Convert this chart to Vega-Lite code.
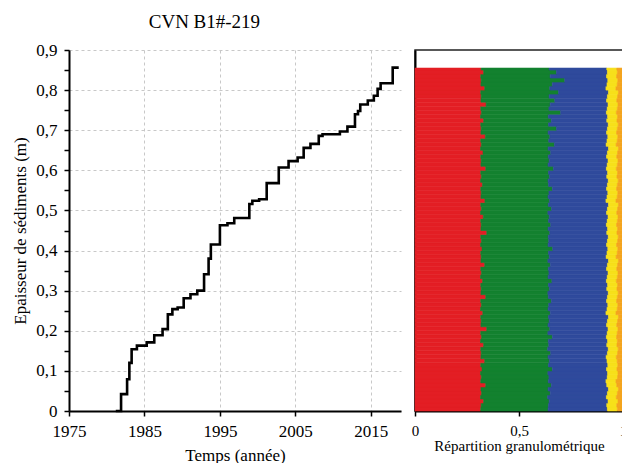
{
  "$schema": "https://vega.github.io/schema/vega-lite/v6.json",
  "background": "white",
  "padding": {"left": 11, "top": 13, "right": 0, "bottom": 0},
  "title": {"text": "CVN B1#-219", "anchor": "start", "dx": 137, "font": "Liberation Serif", "fontSize": 19, "fontWeight": "normal", "color": "black", "offset": 9},
  "spacing": 14,
  "bounds": "flush",
  "datasets": {
    "steps": [
      {"year": 1981.2, "h": 0}, {"year": 1981.9, "h": 0.042}, {"year": 1982.7, "h": 0.079}, {"year": 1983.0, "h": 0.12},
      {"year": 1983.3, "h": 0.154}, {"year": 1984.0, "h": 0.163}, {"year": 1985.3, "h": 0.171}, {"year": 1986.3, "h": 0.189},
      {"year": 1987.4, "h": 0.204}, {"year": 1988.1, "h": 0.241}, {"year": 1988.7, "h": 0.254}, {"year": 1989.4, "h": 0.258},
      {"year": 1990.2, "h": 0.281}, {"year": 1991.1, "h": 0.291}, {"year": 1992.0, "h": 0.30}, {"year": 1992.9, "h": 0.341},
      {"year": 1993.5, "h": 0.38}, {"year": 1993.8, "h": 0.415}, {"year": 1995.0, "h": 0.463}, {"year": 1996.0, "h": 0.468},
      {"year": 1996.9, "h": 0.481}, {"year": 1998.9, "h": 0.516}, {"year": 1999.3, "h": 0.524}, {"year": 2000.2, "h": 0.528},
      {"year": 2001.2, "h": 0.568}, {"year": 2002.8, "h": 0.607}, {"year": 2004.1, "h": 0.623}, {"year": 2005.3, "h": 0.632},
      {"year": 2006.1, "h": 0.656}, {"year": 2007.0, "h": 0.666}, {"year": 2008.1, "h": 0.686}, {"year": 2008.6, "h": 0.69},
      {"year": 2010.9, "h": 0.697}, {"year": 2011.9, "h": 0.709}, {"year": 2012.9, "h": 0.74}, {"year": 2013.3, "h": 0.748},
      {"year": 2013.6, "h": 0.764}, {"year": 2014.6, "h": 0.774}, {"year": 2015.4, "h": 0.786}, {"year": 2015.9, "h": 0.803},
      {"year": 2016.3, "h": 0.817}, {"year": 2017.9, "h": 0.856}, {"year": 2018.7, "h": 0.856}
    ],
    "grain": [
      {"d": 0.00, "d2": 0.01, "c1": 0.316, "c2": 0.324, "c3": 0.285, "c4": 0.048, "c5": 0.027},
      {"d": 0.01, "d2": 0.02, "c1": 0.318, "c2": 0.324, "c3": 0.280, "c4": 0.048, "c5": 0.030},
      {"d": 0.02, "d2": 0.03, "c1": 0.330, "c2": 0.315, "c3": 0.283, "c4": 0.048, "c5": 0.024},
      {"d": 0.03, "d2": 0.04, "c1": 0.315, "c2": 0.323, "c3": 0.282, "c4": 0.048, "c5": 0.032},
      {"d": 0.04, "d2": 0.05, "c1": 0.320, "c2": 0.330, "c3": 0.275, "c4": 0.048, "c5": 0.027},
      {"d": 0.05, "d2": 0.06, "c1": 0.317, "c2": 0.323, "c3": 0.290, "c4": 0.048, "c5": 0.022},
      {"d": 0.06, "d2": 0.07, "c1": 0.340, "c2": 0.315, "c3": 0.267, "c4": 0.048, "c5": 0.030},
      {"d": 0.07, "d2": 0.08, "c1": 0.316, "c2": 0.325, "c3": 0.277, "c4": 0.048, "c5": 0.034},
      {"d": 0.08, "d2": 0.09, "c1": 0.319, "c2": 0.325, "c3": 0.280, "c4": 0.050, "c5": 0.026},
      {"d": 0.09, "d2": 0.10, "c1": 0.315, "c2": 0.324, "c3": 0.287, "c4": 0.050, "c5": 0.024},
      {"d": 0.10, "d2": 0.11, "c1": 0.322, "c2": 0.338, "c3": 0.261, "c4": 0.050, "c5": 0.029},
      {"d": 0.11, "d2": 0.12, "c1": 0.316, "c2": 0.326, "c3": 0.285, "c4": 0.048, "c5": 0.025},
      {"d": 0.12, "d2": 0.13, "c1": 0.335, "c2": 0.311, "c3": 0.277, "c4": 0.049, "c5": 0.028},
      {"d": 0.13, "d2": 0.14, "c1": 0.317, "c2": 0.323, "c3": 0.279, "c4": 0.049, "c5": 0.032},
      {"d": 0.14, "d2": 0.15, "c1": 0.318, "c2": 0.334, "c3": 0.273, "c4": 0.049, "c5": 0.026},
      {"d": 0.15, "d2": 0.16, "c1": 0.316, "c2": 0.322, "c3": 0.291, "c4": 0.048, "c5": 0.023},
      {"d": 0.16, "d2": 0.17, "c1": 0.330, "c2": 0.313, "c3": 0.279, "c4": 0.049, "c5": 0.029},
      {"d": 0.17, "d2": 0.18, "c1": 0.315, "c2": 0.326, "c3": 0.285, "c4": 0.047, "c5": 0.027},
      {"d": 0.18, "d2": 0.19, "c1": 0.320, "c2": 0.340, "c3": 0.260, "c4": 0.049, "c5": 0.031},
      {"d": 0.19, "d2": 0.20, "c1": 0.316, "c2": 0.323, "c3": 0.285, "c4": 0.048, "c5": 0.028},
      {"d": 0.20, "d2": 0.21, "c1": 0.345, "c2": 0.303, "c3": 0.280, "c4": 0.048, "c5": 0.024},
      {"d": 0.21, "d2": 0.22, "c1": 0.317, "c2": 0.323, "c3": 0.281, "c4": 0.049, "c5": 0.030},
      {"d": 0.22, "d2": 0.23, "c1": 0.318, "c2": 0.327, "c3": 0.280, "c4": 0.049, "c5": 0.026},
      {"d": 0.23, "d2": 0.24, "c1": 0.316, "c2": 0.326, "c3": 0.288, "c4": 0.048, "c5": 0.022},
      {"d": 0.24, "d2": 0.25, "c1": 0.326, "c2": 0.324, "c3": 0.268, "c4": 0.048, "c5": 0.034},
      {"d": 0.25, "d2": 0.26, "c1": 0.315, "c2": 0.325, "c3": 0.283, "c4": 0.049, "c5": 0.028},
      {"d": 0.26, "d2": 0.27, "c1": 0.319, "c2": 0.324, "c3": 0.284, "c4": 0.048, "c5": 0.025},
      {"d": 0.27, "d2": 0.28, "c1": 0.316, "c2": 0.339, "c3": 0.266, "c4": 0.048, "c5": 0.031},
      {"d": 0.28, "d2": 0.29, "c1": 0.340, "c2": 0.301, "c3": 0.284, "c4": 0.048, "c5": 0.027},
      {"d": 0.29, "d2": 0.30, "c1": 0.317, "c2": 0.322, "c3": 0.290, "c4": 0.048, "c5": 0.023},
      {"d": 0.30, "d2": 0.31, "c1": 0.318, "c2": 0.328, "c3": 0.276, "c4": 0.049, "c5": 0.029},
      {"d": 0.31, "d2": 0.32, "c1": 0.316, "c2": 0.326, "c3": 0.284, "c4": 0.048, "c5": 0.026},
      {"d": 0.32, "d2": 0.33, "c1": 0.325, "c2": 0.333, "c3": 0.262, "c4": 0.048, "c5": 0.032},
      {"d": 0.33, "d2": 0.34, "c1": 0.315, "c2": 0.325, "c3": 0.284, "c4": 0.049, "c5": 0.027},
      {"d": 0.34, "d2": 0.35, "c1": 0.319, "c2": 0.325, "c3": 0.284, "c4": 0.048, "c5": 0.024},
      {"d": 0.35, "d2": 0.36, "c1": 0.316, "c2": 0.325, "c3": 0.280, "c4": 0.049, "c5": 0.030},
      {"d": 0.36, "d2": 0.37, "c1": 0.335, "c2": 0.315, "c3": 0.275, "c4": 0.049, "c5": 0.026},
      {"d": 0.37, "d2": 0.38, "c1": 0.317, "c2": 0.322, "c3": 0.291, "c4": 0.048, "c5": 0.022},
      {"d": 0.38, "d2": 0.39, "c1": 0.318, "c2": 0.327, "c3": 0.274, "c4": 0.048, "c5": 0.033},
      {"d": 0.39, "d2": 0.40, "c1": 0.316, "c2": 0.326, "c3": 0.281, "c4": 0.049, "c5": 0.028},
      {"d": 0.40, "d2": 0.41, "c1": 0.322, "c2": 0.340, "c3": 0.265, "c4": 0.048, "c5": 0.025},
      {"d": 0.41, "d2": 0.42, "c1": 0.315, "c2": 0.325, "c3": 0.281, "c4": 0.048, "c5": 0.031},
      {"d": 0.42, "d2": 0.43, "c1": 0.319, "c2": 0.324, "c3": 0.282, "c4": 0.049, "c5": 0.026},
      {"d": 0.43, "d2": 0.44, "c1": 0.316, "c2": 0.325, "c3": 0.288, "c4": 0.048, "c5": 0.023},
      {"d": 0.44, "d2": 0.45, "c1": 0.345, "c2": 0.303, "c3": 0.274, "c4": 0.049, "c5": 0.029},
      {"d": 0.45, "d2": 0.46, "c1": 0.317, "c2": 0.323, "c3": 0.286, "c4": 0.048, "c5": 0.026},
      {"d": 0.46, "d2": 0.47, "c1": 0.318, "c2": 0.334, "c3": 0.268, "c4": 0.049, "c5": 0.031},
      {"d": 0.47, "d2": 0.48, "c1": 0.316, "c2": 0.326, "c3": 0.282, "c4": 0.049, "c5": 0.027},
      {"d": 0.48, "d2": 0.49, "c1": 0.328, "c2": 0.317, "c3": 0.283, "c4": 0.048, "c5": 0.024},
      {"d": 0.49, "d2": 0.50, "c1": 0.315, "c2": 0.324, "c3": 0.282, "c4": 0.049, "c5": 0.030},
      {"d": 0.50, "d2": 0.51, "c1": 0.319, "c2": 0.337, "c3": 0.269, "c4": 0.049, "c5": 0.026},
      {"d": 0.51, "d2": 0.52, "c1": 0.316, "c2": 0.325, "c3": 0.289, "c4": 0.048, "c5": 0.022},
      {"d": 0.52, "d2": 0.53, "c1": 0.336, "c2": 0.311, "c3": 0.271, "c4": 0.048, "c5": 0.034},
      {"d": 0.53, "d2": 0.54, "c1": 0.317, "c2": 0.323, "c3": 0.283, "c4": 0.049, "c5": 0.028},
      {"d": 0.54, "d2": 0.55, "c1": 0.318, "c2": 0.326, "c3": 0.283, "c4": 0.048, "c5": 0.025},
      {"d": 0.55, "d2": 0.56, "c1": 0.316, "c2": 0.344, "c3": 0.261, "c4": 0.048, "c5": 0.031},
      {"d": 0.56, "d2": 0.57, "c1": 0.324, "c2": 0.318, "c3": 0.283, "c4": 0.048, "c5": 0.027},
      {"d": 0.57, "d2": 0.58, "c1": 0.315, "c2": 0.325, "c3": 0.289, "c4": 0.048, "c5": 0.023},
      {"d": 0.58, "d2": 0.59, "c1": 0.319, "c2": 0.327, "c3": 0.276, "c4": 0.049, "c5": 0.029},
      {"d": 0.59, "d2": 0.60, "c1": 0.316, "c2": 0.326, "c3": 0.284, "c4": 0.048, "c5": 0.026},
      {"d": 0.60, "d2": 0.61, "c1": 0.340, "c2": 0.325, "c3": 0.255, "c4": 0.048, "c5": 0.032},
      {"d": 0.61, "d2": 0.62, "c1": 0.317, "c2": 0.323, "c3": 0.284, "c4": 0.049, "c5": 0.027},
      {"d": 0.62, "d2": 0.63, "c1": 0.318, "c2": 0.327, "c3": 0.283, "c4": 0.048, "c5": 0.024},
      {"d": 0.63, "d2": 0.64, "c1": 0.316, "c2": 0.325, "c3": 0.280, "c4": 0.049, "c5": 0.030},
      {"d": 0.64, "d2": 0.65, "c1": 0.327, "c2": 0.325, "c3": 0.273, "c4": 0.049, "c5": 0.026},
      {"d": 0.65, "d2": 0.66, "c1": 0.315, "c2": 0.325, "c3": 0.290, "c4": 0.048, "c5": 0.022},
      {"d": 0.66, "d2": 0.67, "c1": 0.319, "c2": 0.351, "c3": 0.249, "c4": 0.048, "c5": 0.033},
      {"d": 0.67, "d2": 0.68, "c1": 0.316, "c2": 0.327, "c3": 0.280, "c4": 0.049, "c5": 0.028},
      {"d": 0.68, "d2": 0.69, "c1": 0.338, "c2": 0.310, "c3": 0.279, "c4": 0.048, "c5": 0.025},
      {"d": 0.69, "d2": 0.70, "c1": 0.317, "c2": 0.323, "c3": 0.281, "c4": 0.048, "c5": 0.031},
      {"d": 0.70, "d2": 0.71, "c1": 0.318, "c2": 0.362, "c3": 0.245, "c4": 0.048, "c5": 0.027},
      {"d": 0.71, "d2": 0.72, "c1": 0.316, "c2": 0.326, "c3": 0.287, "c4": 0.048, "c5": 0.023},
      {"d": 0.72, "d2": 0.73, "c1": 0.330, "c2": 0.325, "c3": 0.267, "c4": 0.049, "c5": 0.029},
      {"d": 0.73, "d2": 0.74, "c1": 0.315, "c2": 0.326, "c3": 0.285, "c4": 0.048, "c5": 0.026},
      {"d": 0.74, "d2": 0.75, "c1": 0.319, "c2": 0.381, "c3": 0.220, "c4": 0.048, "c5": 0.032},
      {"d": 0.75, "d2": 0.76, "c1": 0.316, "c2": 0.328, "c3": 0.280, "c4": 0.049, "c5": 0.027},
      {"d": 0.76, "d2": 0.77, "c1": 0.342, "c2": 0.308, "c3": 0.278, "c4": 0.048, "c5": 0.024},
      {"d": 0.77, "d2": 0.78, "c1": 0.317, "c2": 0.355, "c3": 0.249, "c4": 0.049, "c5": 0.030},
      {"d": 0.78, "d2": 0.79, "c1": 0.318, "c2": 0.327, "c3": 0.280, "c4": 0.049, "c5": 0.026},
      {"d": 0.79, "d2": 0.80, "c1": 0.316, "c2": 0.374, "c3": 0.240, "c4": 0.048, "c5": 0.022},
      {"d": 0.80, "d2": 0.81, "c1": 0.335, "c2": 0.313, "c3": 0.270, "c4": 0.048, "c5": 0.034},
      {"d": 0.81, "d2": 0.82, "c1": 0.317, "c2": 0.343, "c3": 0.263, "c4": 0.049, "c5": 0.028},
      {"d": 0.82, "d2": 0.83, "c1": 0.318, "c2": 0.402, "c3": 0.207, "c4": 0.048, "c5": 0.025},
      {"d": 0.83, "d2": 0.84, "c1": 0.316, "c2": 0.334, "c3": 0.271, "c4": 0.048, "c5": 0.031},
      {"d": 0.84, "d2": 0.85, "c1": 0.330, "c2": 0.350, "c3": 0.245, "c4": 0.048, "c5": 0.027},
      {"d": 0.85, "d2": 0.855, "c1": 0.318, "c2": 0.327, "c3": 0.277, "c4": 0.048, "c5": 0.030}
    ]
  },
  "hconcat": [
    {
      "width": 332,
      "height": 361,
      "view": {"stroke": null},
      "data": {"name": "steps"},
      "mark": {"type": "line", "interpolate": "step-after", "color": "black", "strokeWidth": 2.6},
      "encoding": {
        "x": {
          "field": "year", "type": "quantitative",
          "scale": {"domain": [1975, 2019], "nice": false, "zero": false},
          "axis": {
            "values": [1975, 1985, 1995, 2005, 2015], "format": "d",
            "labelFont": "Liberation Serif", "titleFont": "Liberation Serif",
            "title": "Temps (année)", "titlePadding": 8,
            "grid": true, "gridColor": "#c8c8c8", "gridDash": [3, 3], "gridWidth": 1
          }
        },
        "y": {
          "field": "h", "type": "quantitative",
          "scale": {"domain": [0, 0.9], "nice": false},
          "axis": {
            "values": [0, 0.05, 0.1, 0.15, 0.2, 0.25, 0.3, 0.35, 0.4, 0.45, 0.5, 0.55, 0.6, 0.65, 0.7, 0.75, 0.8, 0.85, 0.9],
            "labelExpr": "abs(datum.value*10 - round(datum.value*10)) > 0.01 ? '' : (datum.value == 0 ? '0' : replace(format(datum.value, '.1f'), '.', ','))",
            "labelFont": "Liberation Serif", "titleFont": "Liberation Serif",
            "title": "Epaisseur de sédiments (m)", "titlePadding": 6,
            "grid": true, "gridColor": "#c8c8c8", "gridDash": [3, 3], "gridWidth": 1,
            "gridOpacity": {"condition": {"test": "abs(datum.value*10 - round(datum.value*10)) > 0.01", "value": 0}, "value": 1}
          }
        }
      }
    },
    {
      "width": 208,
      "height": 361,
      "view": {"stroke": "#222222", "strokeWidth": 1.5},
      "data": {"name": "grain"},
      "transform": [
        {"fold": ["c1", "c2", "c3", "c4", "c5"], "as": ["k", "f"]},
        {"stack": "f", "groupby": ["d"], "sort": [{"field": "k", "order": "ascending"}], "as": ["x0", "x1"]}
      ],
      "mark": {"type": "rect", "strokeWidth": 0.6},
      "encoding": {
        "x": {
          "field": "x0", "type": "quantitative",
          "scale": {"domain": [0, 1], "nice": false},
          "axis": {"values": [0, 0.5, 1], "labelExpr": "datum.value == 0.5 ? '0,5' : format(datum.value, 'd')", "labelFont": "Liberation Serif", "titleFont": "Liberation Serif", "title": "Répartition granulométrique", "titleFontSize": 15, "labelFontSize": 15, "titlePadding": 0, "grid": false}
        },
        "x2": {"field": "x1"},
        "y": {
          "field": "d", "type": "quantitative",
          "scale": {"domain": [0, 0.9], "nice": false},
          "axis": {"title": null, "labels": false, "ticks": false, "grid": false, "domain": true}
        },
        "y2": {"field": "d2"},
        "color": {
          "field": "k", "type": "nominal",
          "scale": {"domain": ["c1", "c2", "c3", "c4", "c5"], "range": ["#E31E24", "#13812F", "#2F4A9C", "#F7E01A", "#F4A41E"]},
          "legend": null
        },
        "stroke": {
          "field": "k", "type": "nominal",
          "scale": {"domain": ["c1", "c2", "c3", "c4", "c5"], "range": ["#E31E24", "#13812F", "#2F4A9C", "#F7E01A", "#F4A41E"]},
          "legend": null
        }
      }
    }
  ],
  "config": {
    "font": "Liberation Serif",
    "axis": {
      "labelFont": "Liberation Serif", "titleFont": "Liberation Serif",
      "labelFontSize": 17, "titleFontSize": 17, "titleFontWeight": "normal",
      "labelColor": "black", "titleColor": "black",
      "domainColor": "black", "domainWidth": 2,
      "tickColor": "black", "tickWidth": 1.5, "tickSize": 5,
      "labelPadding": 7, "labelFlush": false, "labelOverlap": false
    }
  }
}
